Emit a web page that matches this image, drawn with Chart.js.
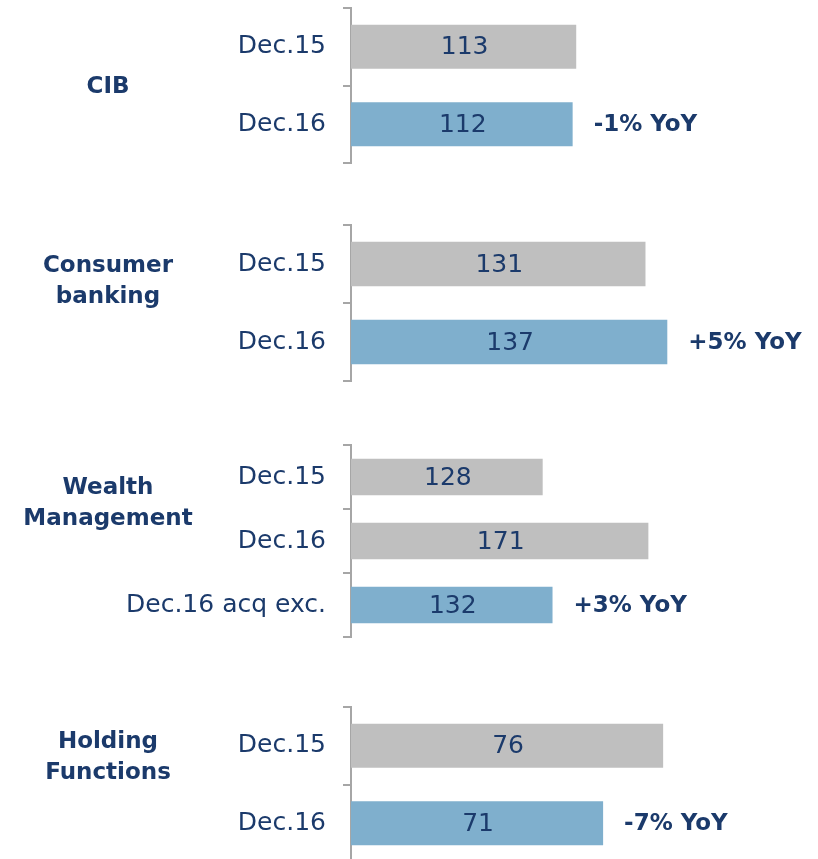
<!DOCTYPE html>
<html>
<head>
<meta charset="utf-8">
<script src="https://cdn.jsdelivr.net/npm/chart.js@4/dist/chart.umd.min.js"></script>
<style>
  body { margin: 0; background: #fff; width: 818px; height: 859px; overflow: hidden; position: relative; }
  .panel { position: absolute; left: 0; width: 818px; }
</style>
</head>
<body>
<script>
// data
const groupNames = [['CIB'], ['Consumer', 'banking'], ['Wealth', 'Management'], ['Holding', 'Functions']];
const periodLabels = [
    ['Dec.15', 'Dec.16'],
    ['Dec.15', 'Dec.16'],
    ['Dec.15', 'Dec.16', 'Dec.16 acq exc.'],
    ['Dec.15', 'Dec.16']
];
const headcount = [[113, 112], [131, 137], [128, 171, 132], [76, 71]];
const yoyLabels = ['-1% YoY', '+5% YoY', '+3% YoY', '-7% YoY'];
const axisMin = 50;
const axisMax = [175.6, 173.5, 232.7, 87.4];

// layout (page pixels)
const panelTop = [8, 225, 445, 707];
const panelHeight = [155, 156, 192, 155];
const groupLabelY = [87, 266, 488, 742];
const pad = 4;

const navy = '#1B3A6B';
const grey = '#BFBFBF';
const blue = '#7FAFCD';
const axisGrey = '#A6A6A6';

Chart.defaults.font.family = '"DejaVu Sans", sans-serif';

// draws values inside bars, YoY text and the group name
const textPlugin = {
    id: 'panelText',
    afterDatasetsDraw(chart, args, opts) {
        const ctx = chart.ctx;
        const left = chart.chartArea.left;
        const meta = chart.getDatasetMeta(0);
        const vals = chart.data.datasets[0].data;
        ctx.save();
        ctx.fillStyle = navy;
        ctx.textBaseline = 'middle';
        ctx.textAlign = 'center';
        ctx.font = '25px "DejaVu Sans"';
        meta.data.forEach((bar, i) => {
            ctx.fillText(vals[i], (left + bar.x) / 2 + 1, bar.y + 1);
        });
        const last = meta.data[meta.data.length - 1];
        ctx.font = 'bold 23px "DejaVu Sans"';
        ctx.textAlign = 'left';
        ctx.fillText(opts.yoy, last.x + 21, last.y + 1);
        ctx.textAlign = 'center';
        opts.group.forEach((line, i) => {
            ctx.fillText(line, 108, opts.groupY + i * 31);
        });
        ctx.restore();
    }
};

headcount.forEach((vals, p) => {
    const box = document.createElement('div');
    box.className = 'panel';
    box.style.top = (panelTop[p] - pad) + 'px';
    box.style.height = (panelHeight[p] + pad * 2) + 'px';
    const canvas = document.createElement('canvas');
    box.appendChild(canvas);
    document.body.appendChild(box);

    new Chart(canvas, {
        type: 'bar',
        data: {
            labels: periodLabels[p],
            datasets: [{
                data: vals,
                backgroundColor: vals.map((v, i) => i === vals.length - 1 ? blue : grey),
                borderWidth: 0,
                barPercentage: 0.57,
                categoryPercentage: 1
            }]
        },
        options: {
            indexAxis: 'y',
            responsive: true,
            maintainAspectRatio: false,
            animation: false,
            layout: { padding: { top: pad, bottom: pad, left: 0, right: 18 } },
            plugins: {
                legend: { display: false },
                tooltip: { enabled: false },
                panelText: {
                    yoy: yoyLabels[p],
                    group: groupNames[p],
                    groupY: groupLabelY[p] - (panelTop[p] - pad)
                }
            },
            scales: {
                x: { display: false, min: axisMin, max: axisMax[p] },
                y: {
                    afterFit: scale => {
                        scale.width = 351;
                        scale.paddingTop = 0;
                        scale.paddingBottom = 0;
                    },
                    border: { color: axisGrey, width: 2 },
                    grid: {
                        drawOnChartArea: false,
                        drawTicks: true,
                        tickLength: 8,
                        color: axisGrey,
                        lineWidth: 2,
                        offset: true
                    },
                    ticks: { color: navy, font: { size: 25 }, padding: 17 }
                }
            }
        },
        plugins: [textPlugin]
    });
});
</script>
</body>
</html>
